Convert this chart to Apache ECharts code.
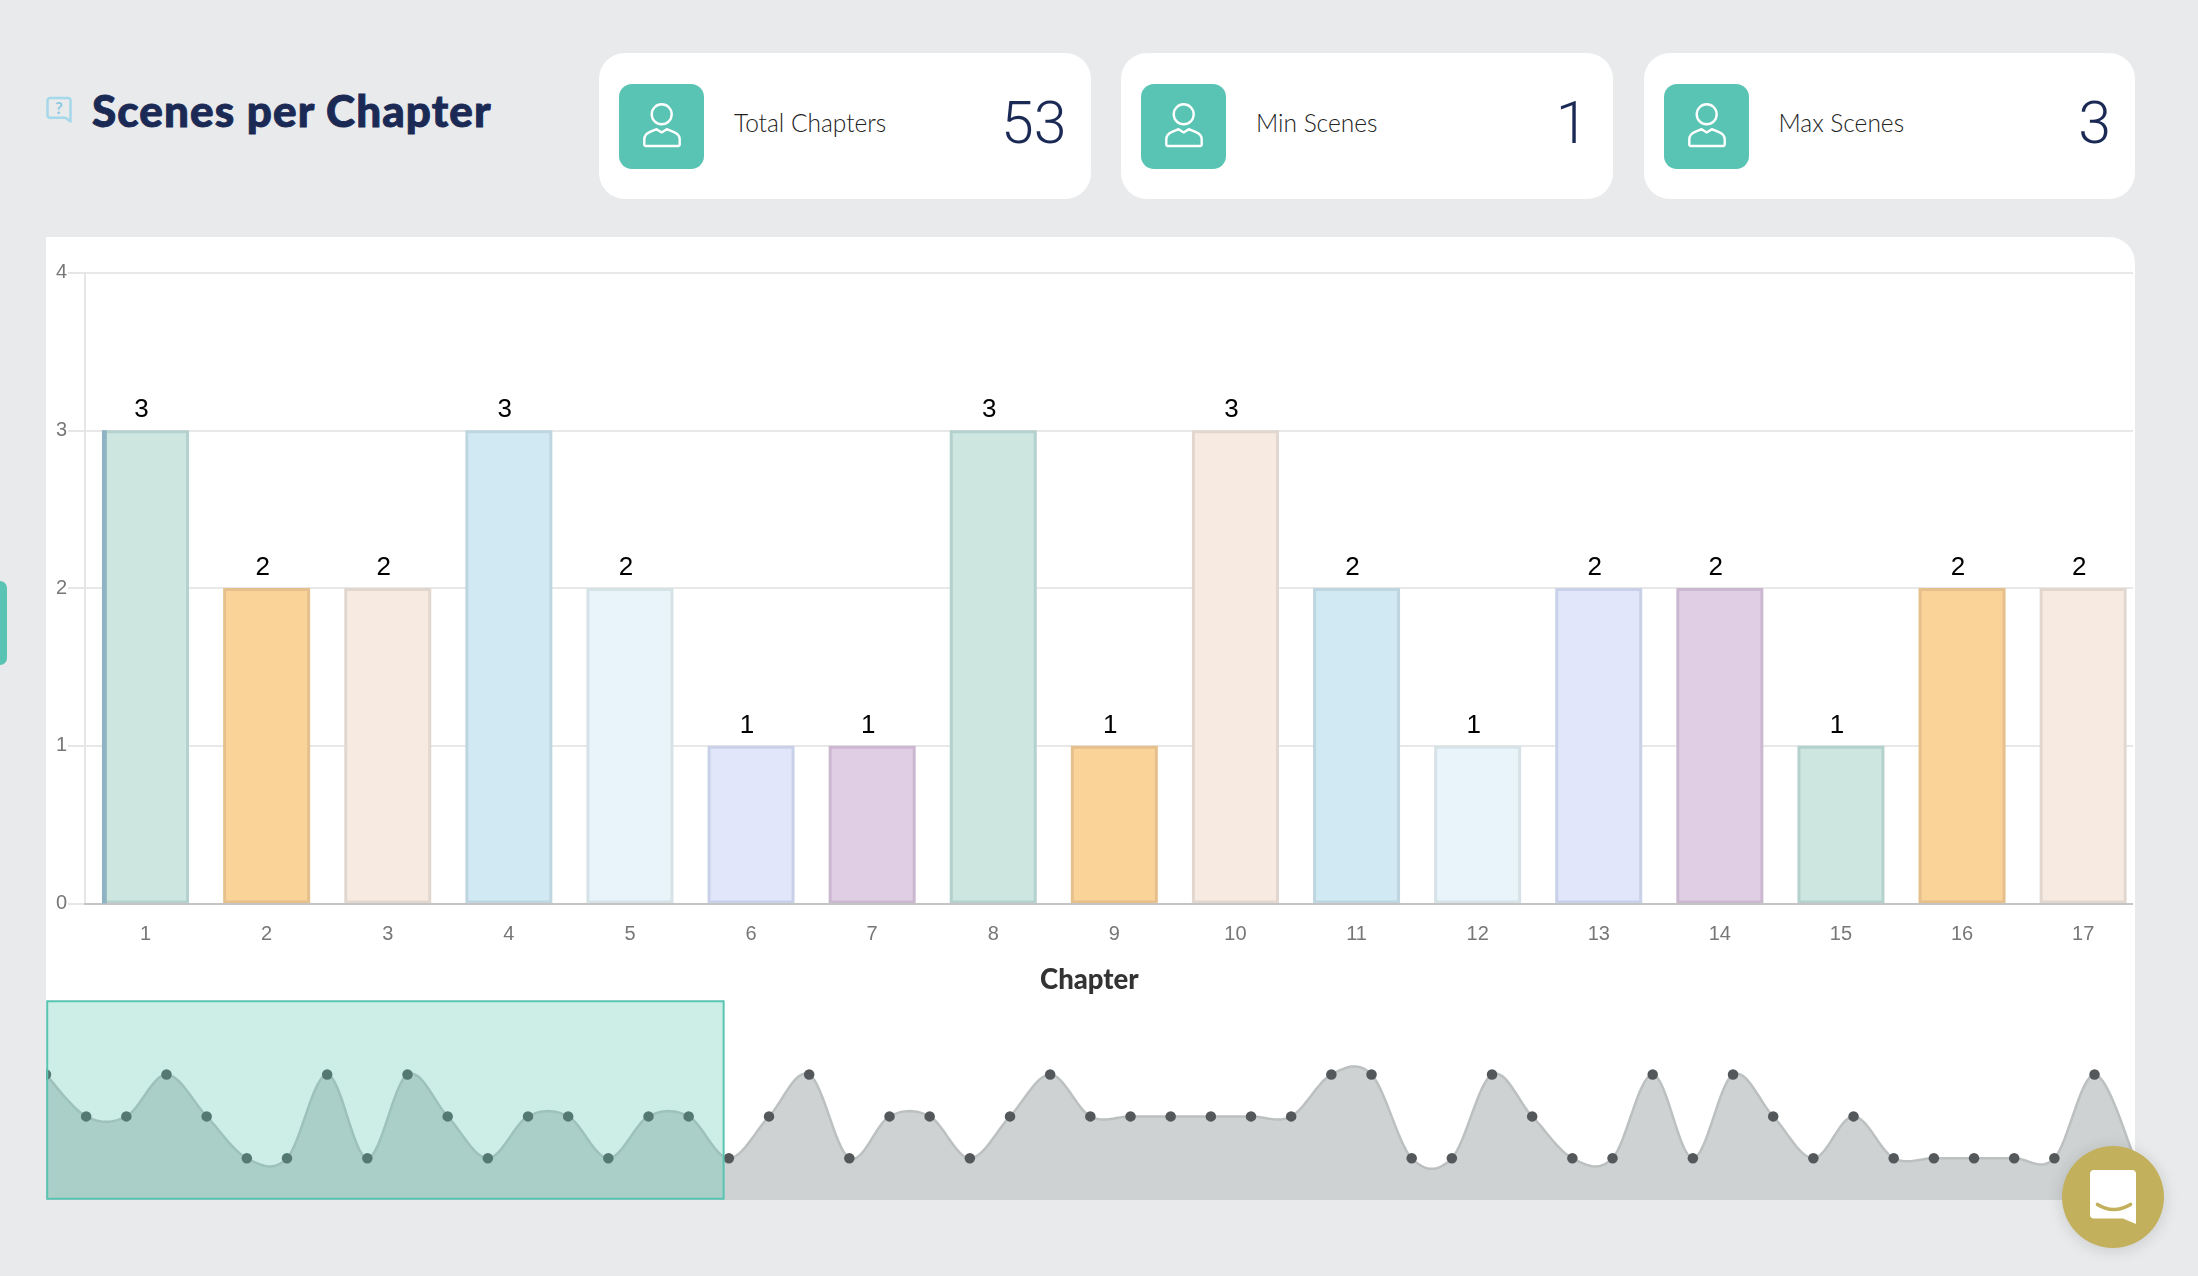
<!DOCTYPE html>
<html><head><meta charset="utf-8">
<script src="https://cdn.jsdelivr.net/npm/echarts@6/dist/echarts.min.js"></script>
<style>
html,body{margin:0;padding:0;width:2198px;height:1276px;background:#e9eaec;overflow:hidden;font-family:Lato,sans-serif}
.abs{position:absolute}
#title{left:92px;top:83px;font:900 44px/54px Lato;letter-spacing:1.100px;-webkit-text-stroke:0.900px #1b2a55;color:#1b2a55;white-space:nowrap}
.card{position:absolute;top:53px;height:146px;background:#fff;border-radius:26px;width:491.500px}
.tile{position:absolute;left:20px;top:31px;width:85px;height:85px;border-radius:13px;background:#59c4b3}
.lbl{position:absolute;left:135px;top:51px;font:300 24.500px/38px Lato;color:#222;white-space:nowrap}
.val{position:absolute;right:24px;top:35px;font:300 59px/70px Roboto;color:#1b2a55}
#wrap{position:absolute;left:46px;top:237px;width:2089px;height:963px;box-sizing:border-box;border-right:2px solid #fff;border-top-right-radius:26px;overflow:hidden;background:#fff}
#chart{width:2152px;height:963px}
#tab{left:0;top:581px;width:7px;height:84px;background:#59c4b3;border-radius:0 9px 9px 0}
#chat{left:2062px;top:1146px;width:102px;height:102px;border-radius:50%;background:#c3b05c;box-shadow:0 2px 16px rgba(0,0,0,.14)}
</style></head><body>
<div class="abs" id="tab"></div>
<svg class="abs" style="left:46px;top:95px" width="28" height="30" viewBox="0 0 28 30"><path d="M4 3h18a2.500 2.500 0 0 1 2.500 2.500V26.500L19.500 22.800H4A2.500 2.500 0 0 1 1.500 20.300V5.500A2.500 2.500 0 0 1 4 3z" fill="none" stroke="#a5d8ea" stroke-width="2.500" stroke-linejoin="round"/><text x="13" y="19" font-family="Lato" font-weight="700" font-size="17" fill="#8ccbe0" text-anchor="middle">?</text></svg>
<div class="abs" id="title">Scenes per Chapter</div>
<div id="cards"></div>
<div id="wrap"><div id="chart"></div></div>
<div class="abs" id="chat"><svg width="102" height="102" viewBox="0 0 102 102"><path d="M32 24h38a4 4 0 0 1 4 4v50l-13-5.500H32a4 4 0 0 1-4-4V28a4 4 0 0 1 4-4z" fill="#fff"/><path d="M35.500 58.500q16 10 33 0" fill="none" stroke="#c3b05c" stroke-width="3.600" stroke-linecap="round"/></svg></div>
<script>
const chapters=['1','2','3','4','5','6','7','8','9','10','11','12','13','14','15','16','17','18','19','20','21','22','23','24','25','26','27','28','29','30','31','32','33','34','35','36','37','38','39','40','41','42','43','44','45','46','47','48','49','50','51','52','53'];
const scenes=[3,2,2,3,2,1,1,3,1,3,2,1,2,2,1,2,2,1,2,3,1,2,2,1,2,3,2,2,2,2,2,2,3,3,1,1,3,2,1,1,3,1,3,2,1,2,1,1,1,1,1,3,1];
const yTicks=[0,1,2,3,4];
const fills=['#cde7e0','#f9d398','#f6eae1','#d1e9f3','#e8f4f9','#e1e6fb','#e0cfe4'];
const borders=['#b5d1cd','#e5c08c','#e2d7cf','#bfd6e0','#d5e2e6','#c9d1e8','#cbb7d0'];
const cardLabels=['Total Chapters','Min Scenes','Max Scenes'];
const cardValues=['53','1','3'];
const cardLeft=[599,1121,1643.500];
const visibleBars=[0,16];
const windowChapters=[1.03,17.87];
const miniMax=4.76;

const icon='<svg width="85" height="85" viewBox="0 0 85 85" fill="none" stroke="#fff" stroke-width="2.400" stroke-linejoin="round"><circle cx="42.700" cy="30.300" r="10"/><path d="M26.800 62H59.200A1.500 1.500 0 0 0 60.700 60.500V55.500Q60.700 50.500 55 48.200L47.800 45.200L42.700 48.400L37.600 45.200L30.500 48.200Q25.300 50.500 25.300 55.500V60.500A1.500 1.500 0 0 0 26.800 62z"/></svg>';
document.getElementById('cards').innerHTML=cardLabels.map((l,i)=>
 `<div class="card" style="left:${cardLeft[i]}px"><div class="tile">${icon}</div><div class="lbl">${l}</div><div class="val">${cardValues[i]}</div></div>`).join('');

// cardinal-spline outline through the minimap points, sampled via the axis scale
const splineT=0.17;
function splineOutline(api){
  const p=scenes.map((v,i)=>api.coord([+chapters[i],v]));
  const pts=[];
  for(let i=0;i<p.length-1;i++){
    const a=p[Math.max(i-1,0)],b=p[i],c=p[i+1],d=p[Math.min(i+2,p.length-1)];
    const c1=[b[0]+(c[0]-a[0])*splineT,b[1]+(c[1]-a[1])*splineT];
    const c2=[c[0]-(d[0]-b[0])*splineT,c[1]-(d[1]-b[1])*splineT];
    for(let s=0;s<16;s++){
      const t=s/16,u=1-t;
      pts.push([u*u*u*b[0]+3*u*u*t*c1[0]+3*u*t*t*c2[0]+t*t*t*c[0],
                u*u*u*b[1]+3*u*u*t*c1[1]+3*u*t*t*c2[1]+t*t*t*c[1]]);
    }
  }
  pts.push(p[p.length-1]);
  return pts;
}

const chart=echarts.init(document.getElementById('chart'),null,{renderer:'canvas'});
const font='"Liberation Sans"';
chart.setOption({
 animation:false,
 grid:[{left:39,top:35.500,width:2058.700,height:631},{left:-1.300,top:764,width:2090,height:200}],
 xAxis:[
  {type:'category',gridIndex:0,z:3,data:chapters,axisTick:{show:false},
   axisLine:{lineStyle:{color:'#c4c4c4',width:2}},
   axisLabel:{color:'#777',fontFamily:font,fontSize:20,margin:21,interval:0},
   name:'Chapter',nameLocation:'middle',nameGap:63,
   nameTextStyle:{color:'#333',fontFamily:'Lato',fontWeight:900,fontSize:27.500,padding:[0,50,0,0]}},
  {type:'value',gridIndex:1,min:1,max:53,show:false}
 ],
 yAxis:[
  {type:'value',gridIndex:0,min:yTicks[0],max:yTicks[4],interval:1,
   axisLine:{show:true,lineStyle:{color:'#e6e6e6',width:2}},
   axisTick:{show:true,length:17,lineStyle:{color:'#e6e6e6',width:2}},
   splitLine:{lineStyle:{color:'#e8e8e8',width:2}},
   axisLabel:{color:'#777',fontFamily:font,fontSize:20,margin:18,padding:[5,0,0,0]}},
  {type:'value',gridIndex:1,min:0,max:miniMax,show:false}
 ],
 dataZoom:[{type:'inside',xAxisIndex:0,startValue:visibleBars[0],endValue:visibleBars[1],zoomLock:true,filterMode:'filter'}],
 series:[
  {type:'bar',xAxisIndex:0,yAxisIndex:0,barWidth:87,
   data:scenes.map((v,i)=>({value:v,itemStyle:{color:fills[i%7],borderColor:borders[i%7],borderWidth:3}})),
   label:{show:true,position:'top',distance:7,offset:[-4,0],color:'#000',fontFamily:font,fontSize:26}},
  {type:'custom',xAxisIndex:0,yAxisIndex:0,z:5,silent:true,
   data:[[0,scenes[0]]],
   renderItem:(p,api)=>{const t=api.coord([api.value(0),api.value(1)]),b=api.coord([api.value(0),0]),band=api.size([1,0])[0];
     return {type:'rect',shape:{x:t[0]-band*0.36,y:t[1],width:band*0.04,height:b[1]-t[1]},style:{fill:'#8fb3c2'}};}},
  {type:'custom',xAxisIndex:1,yAxisIndex:1,z:1,silent:true,
   data:[[1,0]],
   renderItem:(p,api)=>{
     const pts=splineOutline(api),base=api.coord([1,0])[1],first=pts[0],last=pts[pts.length-1];
     return {type:'group',children:[
       {type:'polygon',shape:{points:pts.concat([[last[0],base],[first[0],base]])},style:{fill:'#cfd2d3'}},
       {type:'polyline',shape:{points:pts},style:{fill:'none',stroke:'#bcc0c0',lineWidth:2.500}}
     ]};}},
  {type:'line',xAxisIndex:1,yAxisIndex:1,z:3,clip:false,
   data:scenes.map((v,i)=>[+chapters[i],v]),
   showSymbol:true,symbol:'circle',symbolSize:10.500,
   itemStyle:{color:'#54585a'},
   lineStyle:{width:0,opacity:0},
   markArea:{silent:true,z:10,
     itemStyle:{color:'rgba(85,198,175,0.3)',borderColor:'#5ac4b3',borderWidth:2},
     data:[[{xAxis:windowChapters[0],yAxis:miniMax-0.005},{xAxis:windowChapters[1],yAxis:0.03}]]}}
 ]
});
</script></body></html>
